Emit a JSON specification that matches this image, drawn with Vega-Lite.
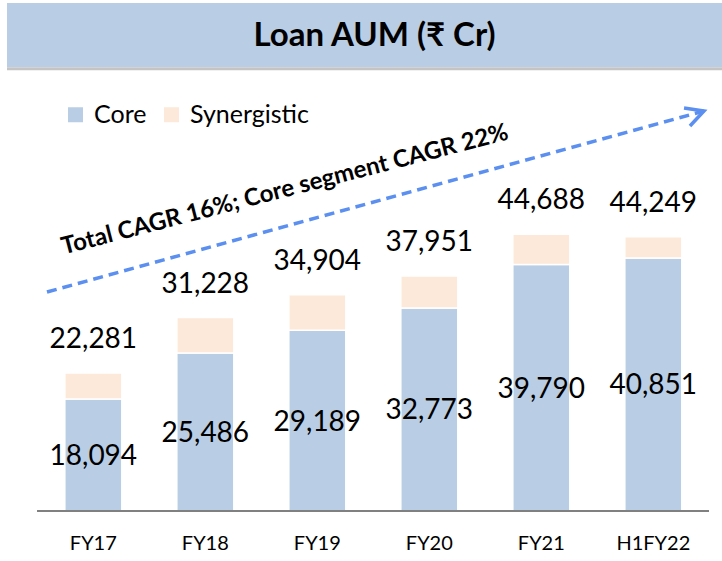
{
  "$schema": "https://vega.github.io/schema/vega-lite/v6.json",
  "width": 715,
  "height": 508,
  "autosize": {"type": "none"},
  "padding": {"left": 7, "top": 3, "right": 0, "bottom": 50},
  "background": "white",
  "config": {"view": {"stroke": null}, "font": "Lato"},
  "datasets": {
    "aum": [
      {"year": "FY17", "core": 18094, "total": 22281},
      {"year": "FY18", "core": 25486, "total": 31228},
      {"year": "FY19", "core": 29189, "total": 34904},
      {"year": "FY20", "core": 32773, "total": 37951},
      {"year": "FY21", "core": 39790, "total": 44688},
      {"year": "H1FY22", "core": 40851, "total": 44249}
    ],
    "shaft": [
      {"ax": 0.089, "ay": 35351},
      {"ax": 5.955, "ay": 64567}
    ],
    "head": [
      {"o": 1, "ax": 5.777, "ay": 65052},
      {"o": 2, "ax": 5.955, "ay": 64567},
      {"o": 3, "ax": 5.83, "ay": 62146}
    ]
  },
  "layer": [
    {
      "layer": [
        {
          "data": {"values": [{"t": "Loan AUM (₹ Cr)"}]},
          "mark": {"type": "rect", "color": "#b9cde5"},
          "encoding": {
            "y": {"datum": 71670, "type": "quantitative", "scale": {"domain": [0, 82000], "nice": false, "zero": true}, "axis": null},
            "y2": {"datum": 82000}
          }
        },
        {
          "data": {"values": [{"t": "Loan AUM (₹ Cr)"}]},
          "mark": {"type": "rule", "color": "#c4c4c4", "strokeWidth": 3},
          "encoding": {
            "y": {"datum": 71400, "type": "quantitative", "scale": {"domain": [0, 82000], "nice": false, "zero": true}, "axis": null}
          }
        },
        {
          "data": {"values": [{"t": "Loan AUM (₹ Cr)"}]},
          "mark": {"type": "text", "fontSize": 33, "fontWeight": "bold", "color": "#000000", "dx": 10, "baseline": "middle"},
          "encoding": {
            "y": {"datum": 76674, "type": "quantitative", "scale": {"domain": [0, 82000], "nice": false, "zero": true}, "axis": null},
            "text": {"field": "t", "type": "nominal"}
          }
        },
        {
          "data": {"name": "aum"},
          "mark": {"type": "bar", "stroke": "white", "strokeWidth": 1.5},
          "encoding": {
            "x": {"field": "year", "type": "nominal", "sort": null,
                  "scale": {"paddingInner": 0.491, "paddingOuter": 0.4375, "align": 0.59},
                  "axis": {"title": null, "domain": false, "ticks": false, "labelAngle": 0, "labelFontSize": 20, "labelColor": "#000000", "labelPadding": 22, "labelFont": "Lato"}},
            "y": {"field": "core", "type": "quantitative", "scale": {"domain": [0, 82000], "nice": false, "zero": true}, "axis": null},
            "color": {"datum": "Core", "type": "nominal",
                      "scale": {"domain": ["Core", "Synergistic"], "range": ["#b9cde5", "#fde9d9"]},
                      "legend": {"title": null, "orient": "none", "legendX": 56, "legendY": 99, "direction": "horizontal",
                                 "symbolType": "square", "symbolSize": 225, "symbolStrokeWidth": 0, "symbolOpacity": 1,
                                 "labelFontSize": 25, "labelFont": "Lato", "labelColor": "#000000", "columnPadding": 12, "labelOffset": 6, "padding": 0}}
          }
        },
        {
          "data": {"name": "aum"},
          "mark": {"type": "bar", "stroke": "white", "strokeWidth": 1.5},
          "encoding": {
            "x": {"field": "year", "type": "nominal", "sort": null},
            "y": {"field": "core", "type": "quantitative", "scale": {"domain": [0, 82000], "nice": false, "zero": true}, "axis": null},
            "y2": {"field": "total"},
            "color": {"datum": "Synergistic", "type": "nominal"}
          }
        },
        {
          "data": {"name": "aum"},
          "transform": [{"calculate": "datum.core / 2", "as": "mid"}],
          "mark": {"type": "text", "fontSize": 28, "color": "#000000", "baseline": "middle", "dy": 2},
          "encoding": {
            "x": {"field": "year", "type": "nominal", "sort": null},
            "y": {"field": "mid", "type": "quantitative", "scale": {"domain": [0, 82000], "nice": false, "zero": true}, "axis": null},
            "text": {"field": "core", "type": "quantitative", "format": ","}
          }
        },
        {
          "data": {"name": "aum"},
          "mark": {"type": "text", "fontSize": 28, "color": "#000000", "baseline": "middle", "dy": -33},
          "encoding": {
            "x": {"field": "year", "type": "nominal", "sort": null},
            "y": {"field": "total", "type": "quantitative", "scale": {"domain": [0, 82000], "nice": false, "zero": true}, "axis": null},
            "text": {"field": "total", "type": "quantitative", "format": ","}
          }
        }
      ]
    },
    {
      "layer": [
        {
          "data": {"values": [{}]},
          "mark": {"type": "rule", "color": "#808080", "strokeWidth": 2},
          "encoding": {
            "x": {"datum": 0, "type": "quantitative", "scale": {"domain": [-0.268, 6.116], "nice": false, "zero": false}, "axis": null},
            "x2": {"datum": 6},
            "y": {"datum": 0, "type": "quantitative", "scale": {"domain": [0, 82000], "nice": false, "zero": true}, "axis": null}
          }
        },
        {
          "data": {"name": "shaft"},
          "mark": {"type": "line", "color": "#5b8ff0", "strokeWidth": 3.5, "strokeDash": [10, 6], "strokeCap": "butt"},
          "encoding": {
            "x": {"field": "ax", "type": "quantitative", "scale": {"domain": [-0.268, 6.116], "nice": false, "zero": false}, "axis": null},
            "y": {"field": "ay", "type": "quantitative", "scale": {"domain": [0, 82000], "nice": false, "zero": true}, "axis": null}
          }
        },
        {
          "data": {"name": "head"},
          "mark": {"type": "line", "color": "#5b8ff0", "strokeWidth": 3.5, "strokeCap": "butt", "strokeJoin": "miter"},
          "encoding": {
            "x": {"field": "ax", "type": "quantitative", "scale": {"domain": [-0.268, 6.116], "nice": false, "zero": false}, "axis": null},
            "y": {"field": "ay", "type": "quantitative", "scale": {"domain": [0, 82000], "nice": false, "zero": true}, "axis": null},
            "order": {"field": "o", "type": "quantitative"}
          }
        },
        {
          "data": {"values": [{"label": "Total CAGR 16%; Core segment CAGR 22%"}]},
          "mark": {"type": "text", "fontSize": 24, "fontWeight": "bold", "color": "#000000", "angle": -14.5, "align": "center", "baseline": "middle"},
          "encoding": {
            "x": {"datum": 2.214, "type": "quantitative", "scale": {"domain": [-0.268, 6.116], "nice": false, "zero": false}, "axis": null},
            "y": {"datum": 51815, "type": "quantitative", "scale": {"domain": [0, 82000], "nice": false, "zero": true}, "axis": null},
            "text": {"field": "label", "type": "nominal"}
          }
        }
      ]
    }
  ],
  "resolve": {"scale": {"x": "independent"}}
}
